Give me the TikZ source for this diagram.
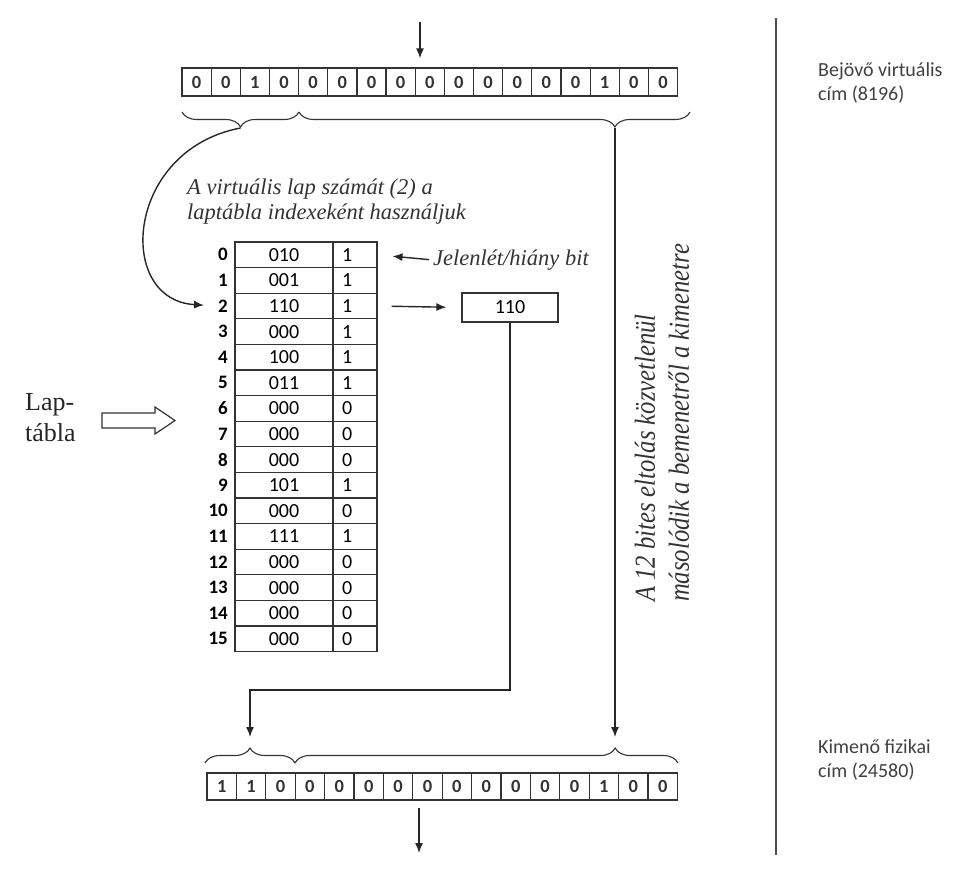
\documentclass[tikz,border=0pt]{standalone}
\usepackage{fontspec}
\usepackage{graphicx}
\setmainfont{Liberation Serif}
\newfontfamily\calfont{Carlito}
\usetikzlibrary{arrows.meta,decorations.pathreplacing,calc}
\begin{document}
\begin{tikzpicture}[x=1pt,y=-1pt,
  bit/.style={draw=black!80, line width=1.2pt, minimum width=29.15pt, minimum height=28pt, inner sep=0pt, font=\calfont\bfseries\fontsize{18.5}{18}\selectfont, text=black!80},
  bitb/.style={bit, minimum width=29.4pt, minimum height=27pt},
  val/.style={draw=black!80, line width=1.2pt, minimum width=98pt, minimum height=25.6pt, inner sep=0pt, font=\calfont\fontsize{20}{20}\selectfont},
  pbit/.style={draw=black!80, line width=1.2pt, minimum width=44pt, minimum height=25.6pt, inner sep=0pt, text width=26pt, align=left, font=\calfont\fontsize{20}{20}\selectfont},
  idx/.style={anchor=east, inner sep=0pt, font=\calfont\bfseries\fontsize{19}{19}\selectfont},
  arr/.style={-{Latex[length=10pt,width=8pt]}, line width=1.4pt, black!85},
  brc/.style={decorate, decoration={brace, amplitude=15pt}, line width=1.1pt, black!80},
  ital/.style={font=\itshape\fontsize{22.5}{25}\selectfont, inner sep=0pt, text=black!80},
  side/.style={font=\calfont\fontsize{20}{24}\selectfont, text=black!75, align=left, inner sep=0pt, anchor=west},
]
\useasboundingbox (0,0) rectangle (968,872);

% incoming virtual address
\foreach \b [count=\i from 0] in {0,0,1,0,0,0,0,0,0,0,0,0,0,0,1,0,0}
  \node[bit] (t\i) at ({182+29.15*(\i+0.5)},82) {\b};
% outgoing physical address
\foreach \b [count=\i from 0] in {1,1,0,0,0,0,0,0,0,0,0,0,0,1,0,0}
  \node[bitb] (b\i) at ({207+29.4*(\i+0.5)},786.5) {\b};

% braces top
\coordinate (tb1s) at (299,112);
\coordinate (tb1e) at (182,112);
\coordinate (tb2s) at (690,112);
\coordinate (tb2e) at (299,112);
\draw[brc, decoration={aspect=0.5}] (tb1s) -- (tb1e);
\draw[brc, decoration={aspect=0.192}] (tb2s) -- (tb2e);
\coordinate (tipT1) at (240.5,128);
\coordinate (tipT2) at (615,128);

% braces bottom
\coordinate (bb1s) at (205,763);
\coordinate (bb1e) at (295,763);
\coordinate (bb2s) at (295,763);
\coordinate (bb2e) at (678,763);
\draw[brc, decoration={aspect=0.5}] (bb1s) -- (bb1e);
\draw[brc, decoration={aspect=0.836}] (bb2s) -- (bb2e);
\coordinate (tipB1) at (250,748);
\coordinate (tipB2) at (615,748);

% page table
\foreach \v/\p [count=\i from 0] in {010/1,001/1,110/1,000/1,100/1,011/1,000/0,000/0,000/0,101/1,000/0,111/1,000/0,000/0,000/0,000/0} {
  \node[val] (v\i) at (284,{242+25.6*(\i+0.5)}) {\v};
  \node[pbit] (p\i) at (355,{242+25.6*(\i+0.5)}) {\p};
  \node[idx] (i\i) at (228,{242+25.6*(\i+0.5)}) {\i};
}

% frame box
\node[val, minimum width=96pt, minimum height=29pt] (fr) at (510,307.5) {110};

% texts
\node[ital, anchor=west, align=left] (hd) at (187,202) {A virtuális lap számát (2) a\\laptábla indexeként használjuk};
\node[ital, anchor=west] (jel) at (433,260) {Jelenlét/hiány bit};
\node[rotate=90, anchor=west, inner sep=0pt, text=black!80] (vt) at (665,602)
  {\scalebox{0.85}[1]{\itshape\fontsize{29}{34}\selectfont\begin{tabular}{@{}l@{}}A 12 bites eltolás közvetlenül\\másolódik a bemenetről a kimenetre\end{tabular}}};
\node[font=\fontsize{26}{31}\selectfont, align=left, anchor=west, inner sep=0pt, text=black!85] (lap) at (25,418) {Lap-\\tábla};
\node[side] (inlbl) at (818,83) {Bejövő virtuális\\cím (8196)};
\node[side] (outlbl) at (818,760) {Kimenő fizikai\\cím (24580)};

% hollow arrow
\draw[line width=1.2pt, black!80] (102,413) -- (155,413) -- (155,407) -- (175,420.5) -- (155,434) -- (155,428) -- (102,428) -- cycle;

% separator
\coordinate (sepT) at (776,18);
\coordinate (sepB) at (776,855);
\draw[line width=1.6pt, black!70] (sepT) -- (sepB);

% arrows
\coordinate (inA) at (420,22);
\draw[arr, shorten >=9pt] (inA) -- (inA |- t8.north);
\coordinate (outA) at (419,853);
\draw[arr, shorten <=7pt] (outA |- b7.south) -- (outA);
\draw[arr, shorten >=11pt] (tipT2) -- (tipB2);
\coordinate (turn) at (250,690);
\draw[arr, shorten >=11pt] (fr.south) |- (turn) -- (tipB1);
\draw[arr, shorten >=14pt] (tipT1) .. controls (125,150) and (115,300) .. (i2.west);
\draw[arr, shorten <=14pt, shorten >=15pt] (p2.east) -- (fr.west);
\draw[arr, shorten <=4pt, shorten >=15pt] (jel.west) -- (p0.east);
\end{tikzpicture}
\end{document}
